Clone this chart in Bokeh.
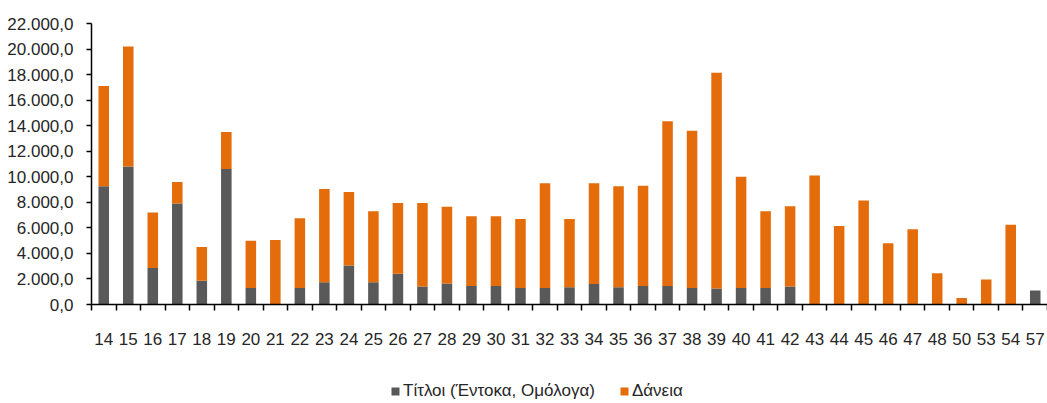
from bokeh.plotting import figure
from bokeh.layouts import column
from bokeh.models import ColumnDataSource, FixedTicker, Legend, LegendItem, Range1d
from bokeh.embed import file_html
from bokeh.resources import INLINE

# ---- data ----
years = ["14", "15", "16", "17", "18", "19", "20", "21", "22", "23", "24", "25", "26",
         "27", "28", "29", "30", "31", "32", "33", "34", "35", "36", "37", "38", "39",
         "40", "41", "42", "43", "44", "45", "46", "47", "48", "50", "53", "54", "57"]
titloi = [9250, 10800, 2850, 7900, 1850, 10600, 1300, 0, 1300, 1750, 3050, 1750, 2400,
          1400, 1650, 1450, 1450, 1300, 1300, 1350, 1600, 1350, 1450, 1450, 1300, 1250,
          1300, 1300, 1400, 0, 0, 0, 0, 0, 0, 0, 0, 0, 1100]
daneia = [7850, 9400, 4350, 1700, 2650, 2900, 3700, 5050, 5450, 7300, 5750, 5550, 5550,
          6550, 6000, 5450, 5450, 5400, 8200, 5350, 7900, 7900, 7850, 12900, 12300, 16900,
          8700, 6000, 6300, 10100, 6150, 8150, 4800, 5900, 2450, 500, 1950, 6250, 0]
y_ticks = [0, 2000, 4000, 6000, 8000, 10000, 12000, 14000, 16000, 18000, 20000, 22000]
series_names = ["Τίτλοι (Έντοκα, Ομόλογα)", "Δάνεια"]

GREY = "#595959"
ORANGE = "#E46C0A"
FONT = "Liberation Sans"
TXT = "#262626"

n = len(years)
xs = list(range(n))
source = ColumnDataSource(dict(x=xs, titloi=titloi, daneia=daneia))

p = figure(width=1047, height=353, output_backend="svg", toolbar_location=None,
           x_range=Range1d(-0.5, n - 0.5), y_range=Range1d(0, 22000),
           min_border_left=91, min_border_top=23, min_border_bottom=49,
           min_border_right=0)
p.outline_line_color = None
p.xgrid.grid_line_color = None
p.ygrid.grid_line_color = None

r = p.vbar_stack(["titloi", "daneia"], x="x", width=0.43, source=source,
                 color=[GREY, ORANGE], line_color=None)

# x axis: labels at centres, ticks at category boundaries
p.xaxis.ticker = FixedTicker(ticks=xs, minor_ticks=[i - 0.5 for i in range(n + 1)])
p.xaxis.major_label_overrides = {i: years[i] for i in xs}
p.xaxis.major_tick_out = 0
p.xaxis.major_tick_in = 0
p.xaxis.minor_tick_out = 6
p.xaxis.minor_tick_in = 0
p.xaxis.minor_tick_line_color = "black"
p.xaxis.minor_tick_line_width = 1.5
p.xaxis.major_label_standoff = 22

# y axis
def fmt(v):
    s = f"{v:,.1f}"
    return s.replace(",", "X").replace(".", ",").replace("X", ".")

p.yaxis.ticker = FixedTicker(ticks=y_ticks)
p.yaxis.major_label_overrides = {v: fmt(v) for v in y_ticks}
p.yaxis.major_tick_out = 5
p.yaxis.major_tick_in = 0
p.yaxis.minor_tick_line_color = None
p.yaxis.major_label_standoff = 13
p.yaxis.major_tick_line_width = 1.5

for ax in (p.xaxis, p.yaxis):
    ax.axis_line_color = "black"
    ax.axis_line_width = 1.5
    ax.major_tick_line_color = "black"
    ax.major_label_text_font = FONT
    ax.major_label_text_font_size = "17px"
    ax.major_label_text_color = TXT

# ---- legend strip below the chart ----
lg = figure(width=1047, height=50, output_backend="svg", toolbar_location=None,
            x_range=Range1d(0, 1), y_range=Range1d(0, 1),
            x_axis_type=None, y_axis_type=None,
            min_border_left=0, min_border_right=0, min_border_top=0, min_border_bottom=0)
lg.outline_line_color = None
lg.xgrid.grid_line_color = None
lg.ygrid.grid_line_color = None
# legend swatches (data placed below the visible range; only their legend glyphs show)
dummy = ColumnDataSource(dict(x=[0.5], top=[-5.0], bottom=[-6.0]))
g1 = lg.vbar(x="x", top="top", bottom="bottom", width=0.1, source=dummy,
             color=GREY, line_color=None)
g2 = lg.vbar(x="x", top="top", bottom="bottom", width=0.1, source=dummy,
             color=ORANGE, line_color=None)

legend = Legend(items=[LegendItem(label=series_names[0], renderers=[g1]),
                       LegendItem(label=series_names[1], renderers=[g2])],
                orientation="horizontal", location=(299, 2),
                glyph_width=10, glyph_height=10, label_standoff=3, spacing=24,
                padding=0, margin=0, border_line_color=None,
                background_fill_alpha=0,
                label_text_font=FONT, label_text_font_size="17px",
                label_text_color=TXT, label_height=14)
lg.add_layout(legend, "center")

layout = column(p, lg, spacing=0)
open("out.html", "w").write(file_html(layout, INLINE))
